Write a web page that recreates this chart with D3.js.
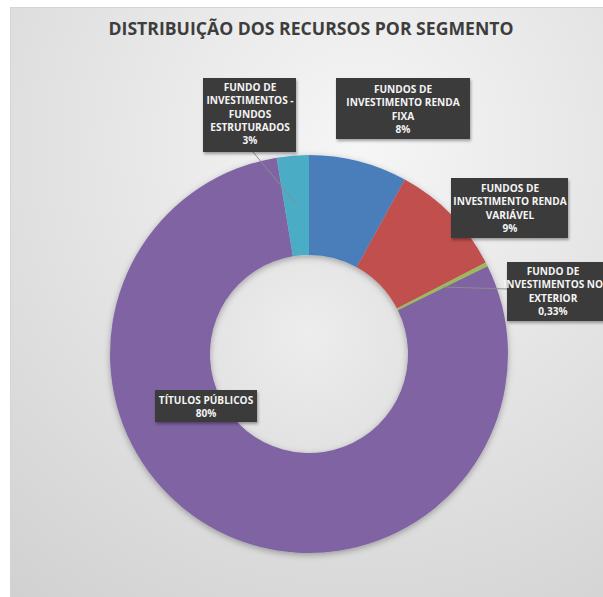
<!DOCTYPE html>
<html><head><meta charset="utf-8">
<script src="https://cdn.jsdelivr.net/npm/d3@7"></script>
<style>html,body{margin:0;padding:0;background:#fff;overflow:hidden}svg{display:block}</style>
</head><body>
<svg id="chart" width="603" height="597"></svg>
<script>
const title = "DISTRIBUIÇÃO DOS RECURSOS POR SEGMENTO";
const categories = [
  "FUNDOS DE INVESTIMENTO RENDA FIXA",
  "FUNDOS DE INVESTIMENTO RENDA VARIÁVEL",
  "FUNDO DE INVESTIMENTOS NO EXTERIOR",
  "TÍTULOS PÚBLICOS",
  "FUNDO DE INVESTIMENTOS - FUNDOS ESTRUTURADOS"
];
const values = [8.0, 9.4, 0.33, 79.67, 2.6];
const valueLabels = ["8%", "9%", "0,33%", "80%", "3%"];
const colors = ["#4a7ebb", "#c0504d", "#9bbb59", "#8064a2", "#4bacc6"];

// label layout (lines of text, box geometry)
const labelLines = [
  ["FUNDOS DE", "INVESTIMENTO RENDA", "FIXA"],
  ["FUNDOS DE", "INVESTIMENTO RENDA", "VARIÁVEL"],
  ["FUNDO DE", "INVESTIMENTOS NO", "EXTERIOR"],
  ["TÍTULOS PÚBLICOS"],
  ["FUNDO DE", "INVESTIMENTOS -", "FUNDOS", "ESTRUTURADOS"]
];
const labelBoxes = [
  {x:336, y:78, w:134, h:61, cx:403, ty:93},
  {x:451, y:178, w:117, h:60, cx:510, ty:192},
  {x:507, y:262, w:110, h:59, cx:553, ty:275},
  {x:155, y:390, w:102, h:32, cx:206, ty:404},
  {x:203, y:78, w:93, h:74, cx:250, ty:91}
];
const leaders = [null, null, {x1:443,y1:287,x2:507,y2:289}, null, {x1:253,y1:152,x2:297,y2:205}];

const svg = d3.select("#chart");
const defs = svg.append("defs");
const bg = defs.append("radialGradient").attr("id","bg").attr("cx","50%").attr("cy","20%").attr("r","90%");
bg.append("stop").attr("offset","0%").attr("stop-color","#f6f6f6");
bg.append("stop").attr("offset","100%").attr("stop-color","#cdcdcd");
const hole = defs.append("radialGradient").attr("id","hole").attr("cx","50%").attr("cy","40%").attr("r","60%");
hole.append("stop").attr("offset","0%").attr("stop-color","#ededed");
hole.append("stop").attr("offset","100%").attr("stop-color","#e2e2e2");
const sh = defs.append("filter").attr("id","sh").attr("x","-20%").attr("y","-20%").attr("width","140%").attr("height","140%");
sh.append("feDropShadow").attr("dx",0).attr("dy",2).attr("stdDeviation",3).attr("flood-color","#000").attr("flood-opacity",0.3);
const sh2 = defs.append("filter").attr("id","sh2").attr("x","-20%").attr("y","-20%").attr("width","140%").attr("height","140%");
sh2.append("feDropShadow").attr("dx",1).attr("dy",2).attr("stdDeviation",1.5).attr("flood-color","#000").attr("flood-opacity",0.35);

svg.append("rect").attr("x",10.5).attr("y",7.5).attr("width",700).attr("height",700)
  .attr("fill","url(#bg)").attr("stroke","#d4d4d4").attr("stroke-width",1);

svg.append("text").attr("x",311).attr("y",35).attr("text-anchor","middle")
  .attr("font-family","'Open Sans', sans-serif").attr("font-weight","bold")
  .attr("font-size",17.5).attr("fill","#3d3d3d")
  .attr("textLength",405).attr("lengthAdjust","spacingAndGlyphs").text(title);

const cx = 309, cy = 354, R = 199, r = 99;
const pie = d3.pie().sort(null).value(d => d);
const arc = d3.arc().innerRadius(r).outerRadius(R);
const g = svg.append("g").attr("transform", `translate(${cx},${cy})`);
g.append("circle").attr("r", r).attr("fill","url(#hole)");
const ring = g.append("g").attr("filter","url(#sh)");
ring.selectAll("path").data(pie(values)).join("path")
  .attr("d", arc).attr("fill", (d,i) => colors[i]);

// leader lines
leaders.forEach(l => {
  if (!l) return;
  svg.append("line").attr("x1",l.x1).attr("y1",l.y1).attr("x2",l.x2).attr("y2",l.y2)
    .attr("stroke","#8c8c8c").attr("stroke-width",1);
});

// labels
categories.forEach((c,i) => {
  const b = labelBoxes[i];
  const lg = svg.append("g");
  lg.append("rect").attr("x",b.x).attr("y",b.y).attr("width",b.w).attr("height",b.h)
    .attr("fill","#3b3b3b").attr("filter","url(#sh2)");
  const lines = labelLines[i].concat([valueLabels[i]]);
  const t = lg.append("text").attr("text-anchor","middle")
    .attr("font-family","'Open Sans', sans-serif").attr("font-weight","bold")
    .attr("font-size",10.1).attr("fill","#f4f4f4");
  lines.forEach((ln,k) => {
    t.append("tspan").attr("x",b.cx).attr("y",b.ty + k*13.3).text(ln);
  });
});
</script>
</body></html>
